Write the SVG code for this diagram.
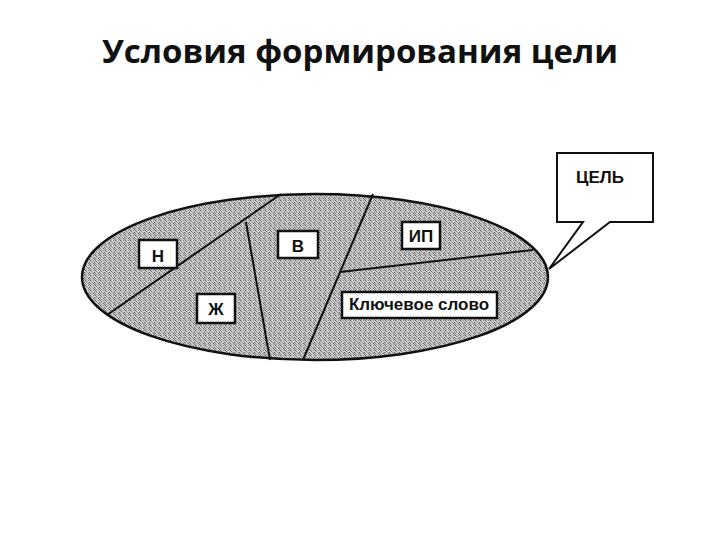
<svg xmlns="http://www.w3.org/2000/svg" width="720" height="540" viewBox="0 0 720 540">
<style>
.title{font-family:"Open Sans","Liberation Sans",sans-serif;font-weight:bold;font-size:33px;fill:#111}
.lbl{font-family:"Liberation Sans",Arial,sans-serif;font-weight:bold;font-size:17px;fill:#111}
.box{fill:#fff;stroke:#111;stroke-width:2.5}
.ln{stroke:#111;stroke-width:2;fill:none}
</style>
<defs>
<pattern id="dots" width="5" height="5" patternUnits="userSpaceOnUse">
<rect width="5" height="5" fill="#cfcfcf"/>
<rect x="0" y="0" width="1" height="1" fill="#555"/>
<rect x="3" y="0" width="1" height="1" fill="#888"/>
<rect x="1" y="1" width="1" height="1" fill="#777"/>
<rect x="4" y="2" width="1" height="1" fill="#555"/>
<rect x="2" y="2" width="1" height="1" fill="#999"/>
<rect x="0" y="3" width="1" height="1" fill="#888"/>
<rect x="3" y="3" width="1" height="1" fill="#666"/>
<rect x="1" y="4" width="1" height="1" fill="#999"/>
<rect x="4" y="4" width="1" height="1" fill="#777"/>
</pattern>
</defs>
<rect width="720" height="540" fill="#fff"/>
<text class="title" x="360" y="63" text-anchor="middle">Условия формирования цели</text>
<g id="field">
<ellipse cx="315" cy="277" rx="233" ry="83" fill="url(#dots)" stroke="#111" stroke-width="2.5"/>
</g>
<g id="connectors">
<line class="ln" x1="281" y1="194" x2="107" y2="315"/>
<line class="ln" x1="246" y1="222" x2="270" y2="360"/>
<line class="ln" x1="373" y1="194" x2="303" y2="360"/>
<line class="ln" x1="340" y1="272" x2="533" y2="250"/>
</g>
<g id="n"><rect class="box" x="139" y="240" width="38" height="28"/><text class="lbl" x="158" y="262" text-anchor="middle">Н</text></g>
<g id="v"><rect class="box" x="278" y="231" width="40" height="27"/><text class="lbl" x="298" y="252" text-anchor="middle">В</text></g>
<g id="zh"><rect class="box" x="197" y="294" width="38" height="29"/><text class="lbl" x="216" y="315" text-anchor="middle">Ж</text></g>
<g id="ip"><rect class="box" x="402" y="222" width="38" height="27"/><text class="lbl" x="421" y="242" text-anchor="middle">ИП</text></g>
<g id="kw"><rect class="box" x="342" y="292" width="155" height="26"/><text class="lbl" x="419" y="310" text-anchor="middle">Ключевое слово</text></g>
<g id="goal">
<path d="M583,222 L557,222 L557,153 L653,153 L653,222 L610,222 L549,269 Z" fill="#fff" stroke="#111" stroke-width="2"/>
<text class="lbl" x="600" y="183" text-anchor="middle">ЦЕЛЬ</text>
</g>
</svg>
